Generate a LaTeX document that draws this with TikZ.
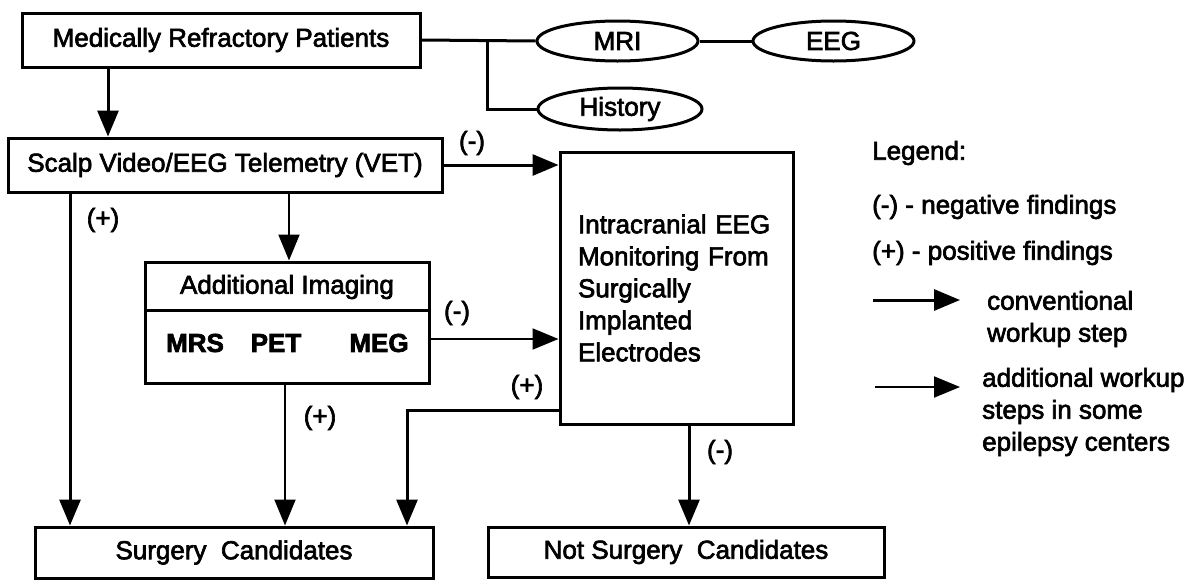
\documentclass[tikz,border=0pt]{standalone}
\usepackage{fontspec}
\setmainfont{Liberation Sans}[FakeBold=2.5]
\usetikzlibrary{arrows.meta,shapes.geometric,calc}
\begin{document}
\begin{tikzpicture}[x=1pt,y=-1pt,
  font=\fontsize{26}{32}\selectfont,
  box/.style={draw,line width=3pt,inner sep=0pt},
  oval/.style={draw,ellipse,line width=3pt,inner sep=0pt},
  link/.style={line width=3pt},
  conv/.style={line width=3pt,-{Triangle[length=26pt,width=21pt]}},
  extra/.style={line width=2pt,-{Triangle[length=26pt,width=21pt]}},
  lbl/.style={inner sep=0pt},
  bold/.style={inner sep=0pt,font=\fontsize{26}{32}\selectfont\bfseries},
]
\useasboundingbox (0,0) rectangle (1202,579);

% top row: patients and the tests attached to them
\node[box,minimum width=398pt,minimum height=54pt] (mrp) at (221,40) {Medically Refractory Patients};
\node[oval,minimum width=161pt,minimum height=40pt] (mri) at (617.5,41) {MRI};
\node[oval,minimum width=161pt,minimum height=40pt] (eeg) at (833.5,41) {EEG};
\node[oval,minimum width=164pt,minimum height=42pt] (hist) at (620,109) {History};
\coordinate (fork) at (487,40);
\draw[link] (mrp.east) -- (mri.west);
\draw[link] (mri.east) -- (eeg.west);
\draw[link] (fork) |- (hist.west);

% workup boxes
\node[box,minimum width=434pt,minimum height=54pt] (vet) at (225,165) {Scalp Video/EEG Telemetry (VET)};
\node[box,minimum width=233pt,minimum height=272pt,text width=197pt,inner xsep=18pt,align=left] (icm) at (676.5,288)
  {Intracranial EEG\\Monitoring From\\Surgically\\Implanted\\Electrodes};
\node[box,minimum width=284pt,minimum height=121pt] (img) at (287,322.5) {};
\draw[link] ($(img.north west)+(0,50)$) -- ($(img.north east)+(0,50)$);
\node[lbl] (imgt) at (287,287) {Additional Imaging};
\node[bold] (mrs) at (195,343) {MRS};
\node[bold] (pet) at (276,343) {PET};
\node[bold] (meg) at (379,343) {MEG};

% outcomes
\node[box,minimum width=398pt,minimum height=51pt] (sc) at (234,552.5) {Surgery\ \ Candidates};
\node[box,minimum width=396pt,minimum height=50pt] (nsc) at (686,552) {Not Surgery\ \ Candidates};

% connectors
\coordinate (xa) at (108,0);
\coordinate (xb) at (289,0);
\coordinate (yc) at (0,339);
\coordinate (xd) at (70,0);
\coordinate (xe) at (285,0);
\coordinate (yf) at (0,410);
\coordinate (xf) at (407,0);
\coordinate (xg) at (689,0);
\draw[conv] (mrp.south -| xa) -- (vet.north -| xa);
\draw[conv] (vet.east) -- (vet.east -| icm.west);
\draw[extra] (vet.south -| xb) -- (img.north -| xb);
\draw[extra] (img.east |- yc) -- (icm.west |- yc);
\draw[conv] (vet.south -| xd) -- (sc.north -| xd);
\draw[extra] (img.south -| xe) -- (sc.north -| xe);
\draw[conv] (icm.west |- yf) -| (sc.north -| xf);
\draw[conv] (icm.south -| xg) -- (nsc.north -| xg);

% finding labels
\node[lbl] (n1) at (472,143) {(-)};
\node[lbl] (n2) at (457,313) {(-)};
\node[lbl] (p1) at (103,220) {(+)};
\node[lbl] (p2) at (320,418) {(+)};
\node[lbl] (p3) at (527,387) {(+)};
\node[lbl] (n3) at (720,452) {(-)};

% legend
\node[lbl,anchor=west] (leg) at (872,153) {Legend:};
\node[lbl,anchor=west] (legneg) at (872,207) {(-) - negative findings};
\node[lbl,anchor=west] (legpos) at (872,253) {(+) - positive findings};
\coordinate (la1) at (873,300);
\coordinate (lb1) at (960,300);
\draw[conv] (la1) -- (lb1);
\node[lbl,anchor=west,align=left] (legconv) at (987,319) {conventional\\workup step};
\coordinate (la2) at (875,387);
\coordinate (lb2) at (960,387);
\draw[extra] (la2) -- (lb2);
\node[lbl,anchor=west,align=left] (legadd) at (982,412) {additional workup\\steps in some\\epilepsy centers};
\end{tikzpicture}
\end{document}
